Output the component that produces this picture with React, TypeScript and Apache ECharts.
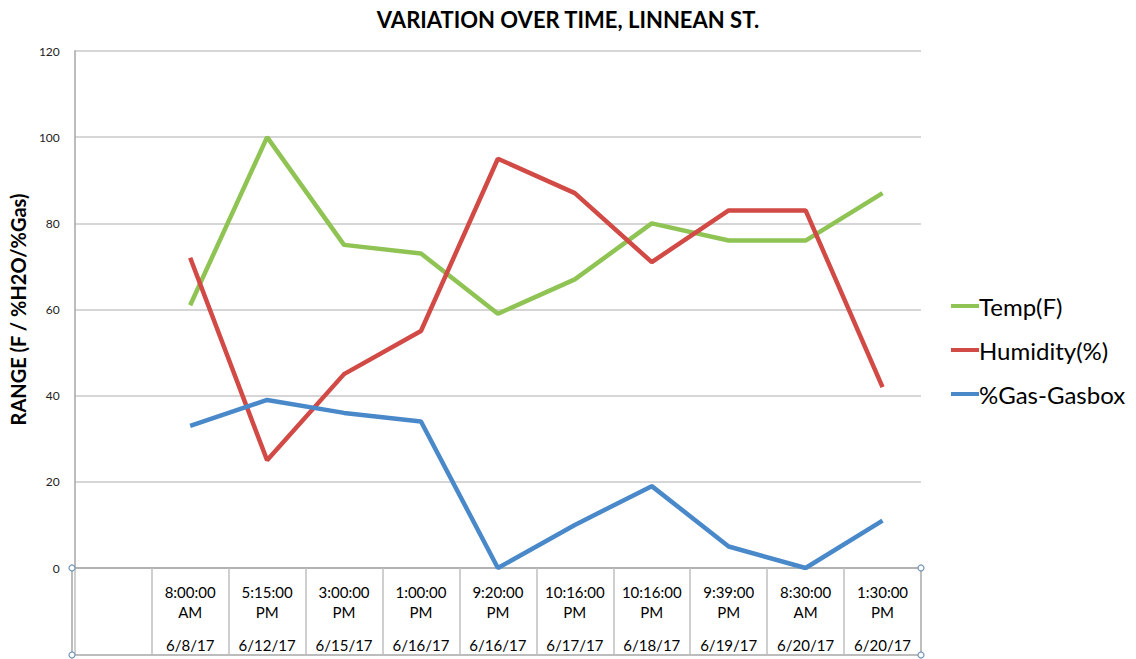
import React, { useEffect, useRef } from "react";
import * as echarts from "echarts";

const times = ["", "8:00:00\nAM", "5:15:00\nPM", "3:00:00\nPM", "1:00:00\nPM", "9:20:00\nPM", "10:16:00\nPM", "10:16:00\nPM", "9:39:00\nPM", "8:30:00\nAM", "1:30:00\nPM"];
const dates = ["", "6/8/17", "6/12/17", "6/15/17", "6/16/17", "6/16/17", "6/17/17", "6/18/17", "6/19/17", "6/20/17", "6/20/17"];
const temp = [null, 61, 100, 75, 73, 59, 67, 80, 76, 76, 87];
const humidity = [null, 72, 25, 45, 55, 95, 87, 71, 83, 83, 42];
const gas = [null, 33, 39, 36, 34, 0, 10, 19, 5, 0, 11];
const yTicks = [0, 20, 40, 60, 80, 100, 120];

const FONT = "Lato, 'Open Sans', sans-serif";

export default function App() {
  const ref = useRef<HTMLDivElement>(null);
  useEffect(() => {
    if (!ref.current) return;
    const chart = echarts.init(ref.current, null, { renderer: "svg" });
    const categories = times.map((t, i) => (t ? t + "|" + dates[i] : ""));
    const L = 72, R = 921, T = 51, B = 568, TB = 655;
    const handle = (x: number, y: number) => ({
      type: "circle",
      shape: { cx: x, cy: y, r: 3 },
      style: { fill: "#fff", stroke: "#6f93b8", lineWidth: 1.2 },
      z: 100,
    });
    chart.setOption({
      animation: false,
      backgroundColor: "#fff",
      title: {
        text: "VARIATION OVER TIME, LINNEAN ST.",
        left: 563,
        textAlign: "center",
        top: 3,
        textStyle: { fontFamily: FONT, fontWeight: "bold", fontSize: 22, color: "#000" },
      },
      legend: {
        orient: "vertical",
        left: 946,
        top: 289,
        itemGap: 20,
        itemWidth: 28,
        itemHeight: 4,
        icon: "rect",
        textStyle: { fontFamily: FONT, fontSize: 24, color: "#000", padding: [0, 0, 0, -5] },
        data: ["Temp(F)", "Humidity(%)", "%Gas-Gasbox"],
      },
      grid: { left: L, right: 1136 - R, top: T, bottom: 659 - B },
      xAxis: {
        type: "category",
        data: categories,
        boundaryGap: true,
        axisLine: { lineStyle: { color: "#a6a6a6", width: 1.5 } },
        axisTick: { show: true, length: TB - B, interval: 0, lineStyle: { color: "#bfbfbf", width: 1.5 } },
        axisLabel: {
          interval: 0,
          margin: 14,
          formatter: (v: string) => {
            if (!v) return "";
            const [t, d] = v.split("|");
            const lines = t.split("\n");
            return lines.map((l) => "{t|" + l + "}").join("\n") + "\n{d|" + d + "}";
          },
          rich: {
            t: { fontFamily: FONT, fontSize: 15, color: "#000", lineHeight: 20, align: "center" },
            d: { fontFamily: FONT, fontSize: 15, color: "#000", lineHeight: 46, align: "center" },
          },
        },
      },
      yAxis: {
        type: "value",
        min: yTicks[0],
        max: yTicks[yTicks.length - 1],
        interval: 20,
        name: "RANGE (F / %H2O/%Gas)",
        nameLocation: "middle",
        nameGap: 44,
        nameTextStyle: { fontFamily: FONT, fontWeight: "bold", fontSize: 20, color: "#000" },
        axisLine: { show: true, lineStyle: { color: "#a6a6a6", width: 1.5 } },
        axisTick: { show: false },
        axisLabel: { fontFamily: FONT, fontSize: 12, color: "#222", margin: 15 },
        splitLine: { lineStyle: { color: "#c8c8c8", width: 1.5 } },
      },
      graphic: [
        { type: "line", shape: { x1: L, y1: TB, x2: R, y2: TB }, style: { stroke: "#a6a6a6", lineWidth: 1.5 } },
        { type: "line", shape: { x1: L, y1: B, x2: L, y2: TB }, style: { stroke: "#a6a6a6", lineWidth: 1.5 } },
        { type: "line", shape: { x1: R, y1: B, x2: R, y2: TB }, style: { stroke: "#a6a6a6", lineWidth: 1.5 } },
        handle(L, B),
        handle(L, TB),
        handle(R, B),
        handle(R, TB),
      ],
      series: [
        { name: "Temp(F)", type: "line", data: temp, symbol: "none", itemStyle: { color: "#8fc454" }, lineStyle: { width: 4.5, color: "#8fc454" } },
        { name: "Humidity(%)", type: "line", data: humidity, symbol: "none", itemStyle: { color: "#d24a45" }, lineStyle: { width: 4.5, color: "#d24a45" } },
        { name: "%Gas-Gasbox", type: "line", data: gas, symbol: "none", itemStyle: { color: "#4a89c9" }, lineStyle: { width: 4.5, color: "#4a89c9" } },
      ],
    });
    return () => chart.dispose();
  }, []);
  return <div ref={ref} style={{ width: 1136, height: 659, position: "absolute", left: 0, top: 0 }} />;
}
